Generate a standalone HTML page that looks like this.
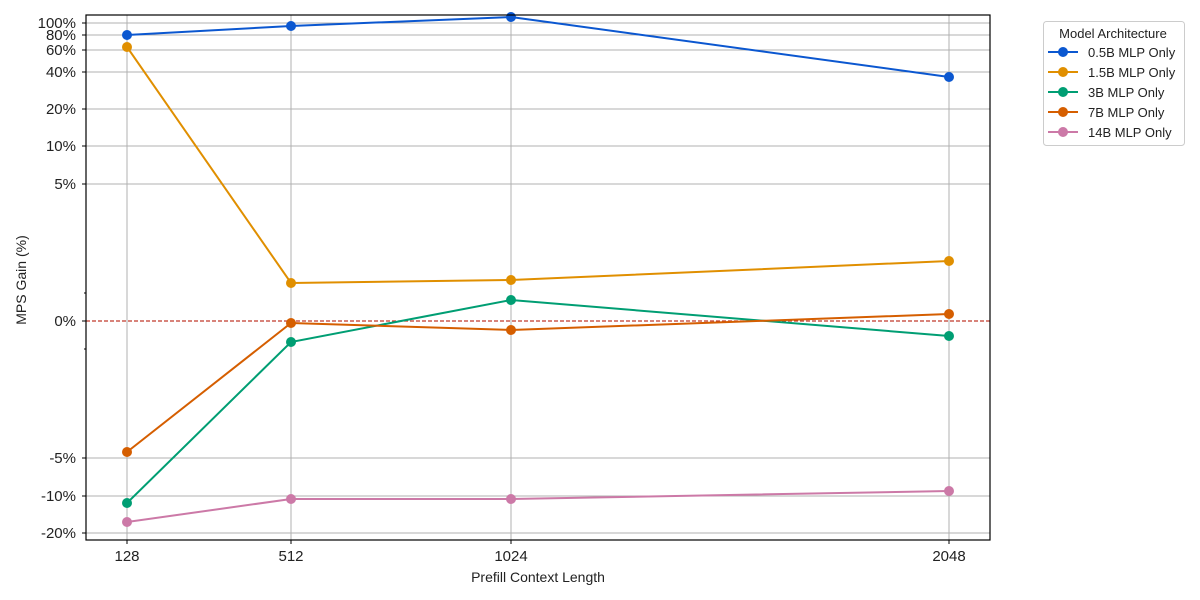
<!DOCTYPE html><html><head><style>body{margin:0;background:#fff}svg{display:block}text{font-family:"Liberation Sans",sans-serif;fill:#222}</style></head><body>
<svg width="1200" height="600" xmlns="http://www.w3.org/2000/svg">
<g stroke="#b0b0b0" stroke-width="1">
<line x1="86" x2="990" y1="23" y2="23"/><line x1="86" x2="990" y1="35" y2="35"/><line x1="86" x2="990" y1="50" y2="50"/><line x1="86" x2="990" y1="72" y2="72"/><line x1="86" x2="990" y1="109" y2="109"/><line x1="86" x2="990" y1="146" y2="146"/><line x1="86" x2="990" y1="184" y2="184"/><line x1="86" x2="990" y1="458" y2="458"/><line x1="86" x2="990" y1="496" y2="496"/><line x1="86" x2="990" y1="533" y2="533"/>
<line x1="127" x2="127" y1="15" y2="540"/><line x1="291" x2="291" y1="15" y2="540"/><line x1="511" x2="511" y1="15" y2="540"/><line x1="949" x2="949" y1="15" y2="540"/>
</g>
<line x1="86" x2="990" y1="321" y2="321" stroke="#c0392b" stroke-width="1.2" stroke-dasharray="4,2"/>
<g stroke="#000" stroke-width="1"><line x1="82" x2="86" y1="23" y2="23"/><line x1="82" x2="86" y1="35" y2="35"/><line x1="82" x2="86" y1="50" y2="50"/><line x1="82" x2="86" y1="72" y2="72"/><line x1="82" x2="86" y1="109" y2="109"/><line x1="82" x2="86" y1="146" y2="146"/><line x1="82" x2="86" y1="184" y2="184"/><line x1="82" x2="86" y1="321" y2="321"/><line x1="82" x2="86" y1="458" y2="458"/><line x1="82" x2="86" y1="496" y2="496"/><line x1="82" x2="86" y1="533" y2="533"/><line x1="84" x2="86" y1="293" y2="293"/><line x1="84" x2="86" y1="349" y2="349"/>
<line x1="127" x2="127" y1="540" y2="544"/><line x1="291" x2="291" y1="540" y2="544"/><line x1="511" x2="511" y1="540" y2="544"/><line x1="949" x2="949" y1="540" y2="544"/></g>
<g font-size="15" text-anchor="end"><text x="76" y="28">100%</text><text x="76" y="40">80%</text><text x="76" y="55">60%</text><text x="76" y="77">40%</text><text x="76" y="114">20%</text><text x="76" y="151">10%</text><text x="76" y="189">5%</text><text x="76" y="326">0%</text><text x="76" y="463">-5%</text><text x="76" y="501">-10%</text><text x="76" y="538">-20%</text></g>
<g font-size="15" text-anchor="middle"><text x="127" y="561">128</text><text x="291" y="561">512</text><text x="511" y="561">1024</text><text x="949" y="561">2048</text></g>
<text x="538" y="582" font-size="14" text-anchor="middle">Prefill Context Length</text>
<text transform="translate(26,280) rotate(-90)" font-size="14" text-anchor="middle">MPS Gain (%)</text>
<g fill="none" stroke-width="2">
<polyline stroke="#0b57d0" points="127,35 291,26 511,17 949,77"/>
<polyline stroke="#e08f00" points="127,47 291,283 511,280 949,261"/>
<polyline stroke="#009e73" points="127,503 291,342 511,300 949,336"/>
<polyline stroke="#d55e00" points="127,452 291,323 511,330 949,314"/>
<polyline stroke="#cc79a7" points="127,522 291,499 511,499 949,491"/>
</g>
<g fill="#0b57d0"><circle cx="127" cy="35" r="5"/><circle cx="291" cy="26" r="5"/><circle cx="511" cy="17" r="5"/><circle cx="949" cy="77" r="5"/></g>
<g fill="#e08f00"><circle cx="127" cy="47" r="5"/><circle cx="291" cy="283" r="5"/><circle cx="511" cy="280" r="5"/><circle cx="949" cy="261" r="5"/></g>
<g fill="#009e73"><circle cx="127" cy="503" r="5"/><circle cx="291" cy="342" r="5"/><circle cx="511" cy="300" r="5"/><circle cx="949" cy="336" r="5"/></g>
<g fill="#d55e00"><circle cx="127" cy="452" r="5"/><circle cx="291" cy="323" r="5"/><circle cx="511" cy="330" r="5"/><circle cx="949" cy="314" r="5"/></g>
<g fill="#cc79a7"><circle cx="127" cy="522" r="5"/><circle cx="291" cy="499" r="5"/><circle cx="511" cy="499" r="5"/><circle cx="949" cy="491" r="5"/></g>
<rect x="86" y="15" width="904" height="525" fill="none" stroke="#000" stroke-width="1.2"/>
<rect x="1043.5" y="21.5" width="141" height="124" rx="3" fill="#fff" stroke="#ccc"/>
<text x="1113" y="38" font-size="13" text-anchor="middle">Model Architecture</text>
<g font-size="13">
<line x1="1048" x2="1078" y1="52" y2="52" stroke="#0b57d0" stroke-width="2"/><circle cx="1063" cy="52" r="5" fill="#0b57d0"/><text x="1088" y="57">0.5B MLP Only</text>
<line x1="1048" x2="1078" y1="72" y2="72" stroke="#e08f00" stroke-width="2"/><circle cx="1063" cy="72" r="5" fill="#e08f00"/><text x="1088" y="77">1.5B MLP Only</text>
<line x1="1048" x2="1078" y1="92" y2="92" stroke="#009e73" stroke-width="2"/><circle cx="1063" cy="92" r="5" fill="#009e73"/><text x="1088" y="97">3B MLP Only</text>
<line x1="1048" x2="1078" y1="112" y2="112" stroke="#d55e00" stroke-width="2"/><circle cx="1063" cy="112" r="5" fill="#d55e00"/><text x="1088" y="117">7B MLP Only</text>
<line x1="1048" x2="1078" y1="132" y2="132" stroke="#cc79a7" stroke-width="2"/><circle cx="1063" cy="132" r="5" fill="#cc79a7"/><text x="1088" y="137">14B MLP Only</text>
</g>
</svg></body></html>
